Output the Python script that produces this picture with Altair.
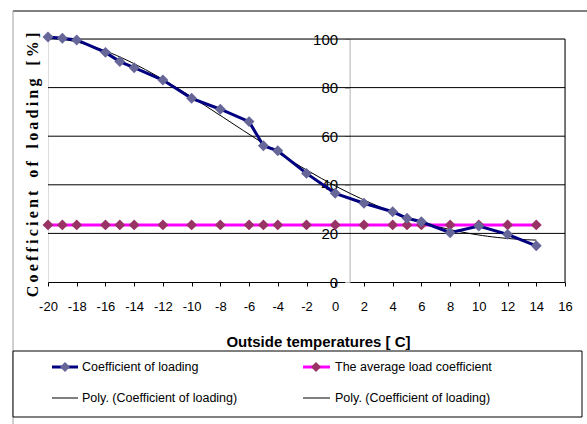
import altair as alt
import pandas as pd

# Outside temperature [C] and measured coefficient of loading [%]
temps = [-20, -19, -18, -16, -15, -14, -12, -10, -8, -6, -5, -4,
         -2, 0, 2, 4, 5, 6, 8, 10, 12, 14]
load = [100.8, 100.3, 99.6, 94.5, 90.7, 88.2, 83.1, 75.6, 71.1, 66.0, 56.1, 54.0,
        44.7, 36.5, 32.4, 28.9, 26.2, 24.8, 20.3, 23.0, 19.6, 14.9]
avg_load = [23.5, 23.5, 23.5, 23.5, 23.5, 23.5, 23.5, 23.5, 23.5, 23.5, 23.5,
            23.5, 23.5, 23.5, 23.5, 23.5, 23.5, 23.5, 23.5, 23.5, 23.5, 23.5]

x_ticks = list(range(-20, 17, 2))
y_ticks = [0, 20, 40, 60, 80, 100]
grid_levels = [20, 40, 60, 80, 100]

y_title_text = "Coefficient of loading [%]"
legend_labels = ["Coefficient of loading", "The average load coefficient",
                 "Poly. (Coefficient of loading)", "Poly. (Coefficient of loading)"]

df = pd.DataFrame({"temp": temps, "load": load, "avg": avg_load})
one = pd.DataFrame({"k": [0]})

W, H = 517, 243
SANS = "Liberation Sans, Arial"
SERIF = "Liberation Serif, Times New Roman"

xs = alt.Scale(domain=[-20, 16], nice=False, zero=False)
ys = alt.Scale(domain=[0, 100], nice=False)

x_axis = alt.Axis(values=x_ticks, grid=False, domainColor="black", tickColor="black",
                  tickSize=4, labelFont=SANS, labelFontSize=13, labelColor="black",
                  labelPadding=14, labelFlush=False, labelOverlap=False,
                  labelExpr="datum.value < 0 ? '-' + abs(datum.value) : '' + datum.value",
                  title="Outside temperatures [ C]", titleX=270,
                  titleFont=SANS, titleFontSize=15, titleFontWeight="bold",
                  titleColor="black", titlePadding=21)
y_axis = alt.Axis(values=y_ticks, grid=False, offset=-301.6, domainColor="#b3b3b3",
                  tickColor="#b3b3b3", tickSize=5, labelFont=SANS, labelFontSize=15,
                  labelColor="black", labelPadding=7, labelOverlap=False, title=None)

X = alt.X("temp:Q", scale=xs, axis=x_axis)


def Y(field):
    return alt.Y(field, type="quantitative", scale=ys, axis=y_axis)


base = alt.Chart(df)

grid = alt.Chart(pd.DataFrame({"g": grid_levels})).mark_rule(
    color="black", strokeWidth=1).encode(
    y=Y("g"), x=alt.value(0), x2=alt.value(W))

right_edge = alt.Chart(one).mark_rule(color="black", strokeWidth=1).encode(
    x=alt.value(W), y=alt.value(0), y2=alt.value(H))

trend = base.transform_regression(
    "temp", "load", method="poly", order=4, extent=[-20, 14]
).mark_line(color="black", strokeWidth=1).encode(x=X, y=Y("load"))

avg_trend = base.transform_regression(
    "temp", "avg", method="poly", order=2, extent=[-20, 14]
).mark_line(color="black", strokeWidth=1).encode(x=X, y=Y("avg"))

avg_line = base.mark_line(color="#FF00FF", strokeWidth=3).encode(x=X, y=Y("avg"))
avg_pts = base.mark_point(shape="diamond", filled=True, opacity=1,
                          color="#993366", size=120).encode(x=X, y=Y("avg"))

load_line = base.mark_line(color="#000080", strokeWidth=3).encode(x=X, y=Y("load"))
load_pts = base.mark_point(shape="diamond", filled=True, opacity=1,
                           color="#666699", size=120).encode(x=X, y=Y("load"))

# chart frame (top and left edges)
frame_top = alt.Chart(one).mark_rule(color="black").encode(
    x=alt.value(-35), x2=alt.value(539), y=alt.value(-28))
frame_left = alt.Chart(one).mark_rule(color="#a0a0a0").encode(
    x=alt.value(-35), y=alt.value(-28), y2=alt.value(385))

# letter-spaced vertical title (thin spaces keep SVG from collapsing the gaps)
spaced_title = "\u2009".join(c if c != " " else "\u2009\u2009" for c in y_title_text)
y_title = alt.Chart(one).mark_text(
    angle=270, font=SERIF, fontSize=16, fontWeight="bold",
    color="black", align="center", baseline="middle").encode(
    x=alt.value(-15), y=alt.value(126), text=alt.value(spaced_title))

# legend box
leg_box = alt.Chart(one).mark_rect(fill="white", stroke="black", strokeWidth=1).encode(
    x=alt.value(-35), x2=alt.value(534), y=alt.value(312), y2=alt.value(378))

leg_layers = []
cols = [(4, 30, 17, 34), (255, 282, 268, 287)]
rows = [328, 359]
entries = [
    (0, 0, "#000080", 3, "#666699"),
    (1, 0, "#FF00FF", 3, "#993366"),
    (0, 1, "black", 1, None),
    (1, 1, "black", 1, None),
]
for i, (c, r, lc, lw, mc) in enumerate(entries):
    x0, x1, xm, xt = cols[c]
    yy = rows[r]
    leg_layers.append(alt.Chart(one).mark_rule(color=lc, strokeWidth=lw).encode(
        x=alt.value(x0), x2=alt.value(x1), y=alt.value(yy)))
    if mc:
        leg_layers.append(alt.Chart(one).mark_point(
            shape="diamond", filled=True, opacity=1, color=mc, size=100).encode(
            x=alt.value(xm), y=alt.value(yy)))
    leg_layers.append(alt.Chart(one).mark_text(
        font=SANS, fontSize=12.5, color="black", align="left", baseline="middle").encode(
        x=alt.value(xt), y=alt.value(yy), text=alt.value(legend_labels[i])))

chart = alt.layer(
    grid, frame_top, frame_left, right_edge, avg_trend, trend, avg_line, avg_pts,
    load_line, load_pts, y_title, leg_box, *leg_layers
).properties(
    width=W, height=H,
    autosize=alt.AutoSizeParams(type="none"),
    padding={"left": 48, "top": 39, "right": 22, "bottom": 142},
).configure_view(stroke=None).configure(background="white")

chart.save("out.html", embed_options={"renderer": "svg", "actions": False})
